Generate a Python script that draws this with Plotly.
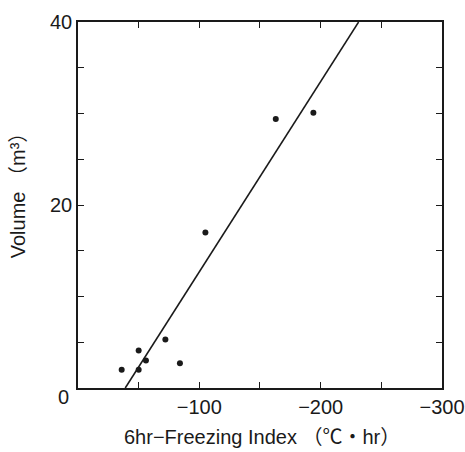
import plotly.graph_objects as go

# Observed data (6hr freezing index, volume)
freezing_index = [-36, -50, -50, -56, -72, -84, -105, -163, -194]
volume = [2.0, 2.0, 4.1, 3.0, 5.3, 2.7, 17.0, 29.4, 30.1]

# Regression line coefficients (volume = intercept + slope * index)
slope = -0.208
intercept = -8.1
line_y = [0, 40]
line_x = [(v - intercept) / slope for v in line_y]

x_tickvals = [-50, -100, -150, -200, -250, -300]
x_ticktext = ["", "−100", "", "−200", "", "−300"]
y_tickvals = [5, 10, 15, 20, 25, 30, 35, 40]
y_ticktext = ["", "", "", "20", "", "", "", "40"]

FONT = "Liberation Sans, Arial, Noto Sans CJK JP, sans-serif"
INK = "#1a1a1a"

fig = go.Figure()
fig.add_trace(go.Scatter(x=line_x, y=line_y, mode="lines",
                         line=dict(color=INK, width=1.6), showlegend=False))
fig.add_trace(go.Scatter(x=freezing_index, y=volume, mode="markers",
                         marker=dict(color=INK, size=6), showlegend=False))

axis_common = dict(showline=True, linecolor=INK, linewidth=1.5, mirror="ticks",
                   ticks="inside", ticklen=6, tickwidth=1.2, tickcolor=INK,
                   showgrid=False, zeroline=False, automargin=False,
                   tickfont=dict(family=FONT, size=20, color=INK))

fig.update_xaxes(range=[0, -300.01], tickvals=x_tickvals, ticktext=x_ticktext, **axis_common)
fig.update_yaxes(range=[0, 40.01], tickvals=y_tickvals, ticktext=y_ticktext, **axis_common)

fig.update_layout(
    width=465, height=452,
    margin=dict(l=78, r=23, t=22, b=64),
    plot_bgcolor="white", paper_bgcolor="white",
    annotations=[
        dict(text="0", xref="paper", yref="paper", x=-0.04, y=-0.025,
             xanchor="center", yanchor="middle", showarrow=False,
             font=dict(family=FONT, size=20, color=INK)),
        dict(text="6hr−Freezing Index （℃・hr）", xref="paper", yref="paper",
             x=0.505, y=-0.135, xanchor="center", yanchor="middle", showarrow=False,
             font=dict(family=FONT, size=20, color=INK)),
        dict(text="Volume （m³）", xref="paper", yref="paper",
             x=-0.165, y=0.54, xanchor="center", yanchor="middle", showarrow=False,
             textangle=-90, font=dict(family=FONT, size=20, color=INK)),
    ],
)

fig.write_html("out.html", config={"displayModeBar": False},
               post_script="document.body.style.margin='0px';document.body.style.overflow='hidden';")
